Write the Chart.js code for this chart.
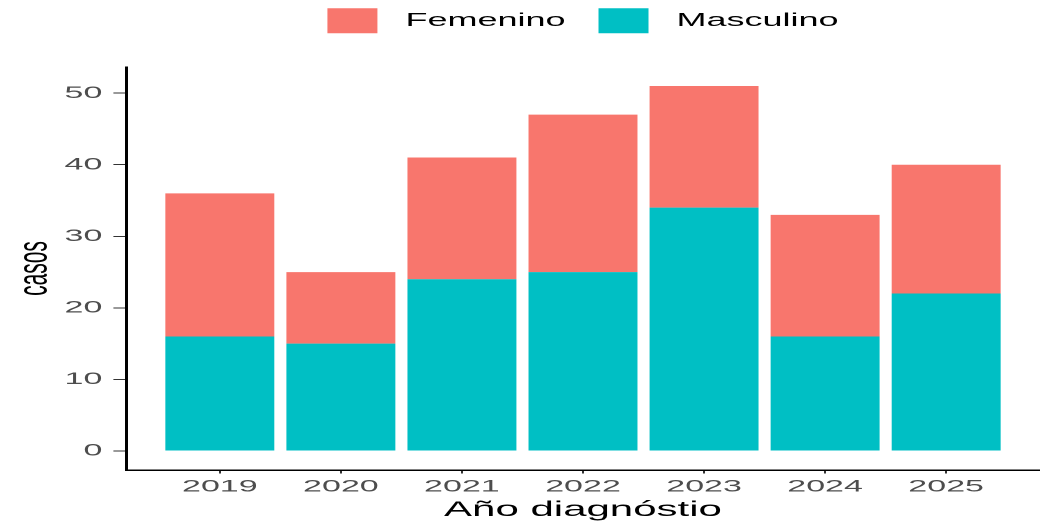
<!DOCTYPE html>
<html>
<head>
<meta charset="utf-8">
<script src="https://cdn.jsdelivr.net/npm/chart.js@4.4.1/dist/chart.umd.min.js"></script>
<style>
  html, body { margin: 0; padding: 0; background: #fff; overflow: hidden; }
  /* the reference is stretched sideways, so the chart is drawn at half width and scaled */
  #wrap { width: 520px; height: 526px; transform: scaleX(2); transform-origin: 0 0; }
</style>
</head>
<body>
<div id="wrap"><canvas id="myChart" width="520" height="526"></canvas></div>
<script>
const years = ['2019', '2020', '2021', '2022', '2023', '2024', '2025'];
const masculino = [16, 15, 24, 25, 34, 16, 22];
const femenino = [20, 10, 17, 22, 17, 17, 18];
const yTicks = [0, 10, 20, 30, 40, 50];

const fontFamily = "'Liberation Sans', Arial, sans-serif";

// empty box between legend and plot area
const gapBelowLegend = {
  id: 'gapBelowLegend',
  beforeInit(chart) {
    Chart.layouts.addBox(chart, {
      position: 'top',
      weight: 500,
      fullSize: false,
      options: {},
      isHorizontal() { return true; },
      update(maxWidth) { this.width = maxWidth; this.height = 23.7; },
      draw() {}
    });
  }
};

const ctx = document.getElementById('myChart').getContext('2d');
const barChart = new Chart(ctx, {
  type: 'bar',
  data: {
    datasets: [{
      label: 'Masculino',
      data: masculino.map((v, i) => ({ x: i, y: v })),
      backgroundColor: '#00BFC4',
      borderWidth: 0
    }, {
      label: 'Femenino',
      data: femenino.map((v, i) => ({ x: i, y: v })),
      backgroundColor: '#F8766D',
      borderWidth: 0
    }]
  },
  plugins: [gapBelowLegend],
  options: {
    responsive: false,
    animation: false,
    devicePixelRatio: 2,
    barPercentage: 0.9,
    categoryPercentage: 1,
    layout: { padding: { top: 1.8, left: 0, right: 0, bottom: 0 } },
    plugins: {
      tooltip: { enabled: false },
      legend: {
        position: 'top',
        fullSize: false,
        labels: {
          boxWidth: 25,
          boxHeight: 25,
          padding: 6.5,
          color: '#000',
          font: { family: fontFamily, size: 18 },
          generateLabels: function(chart) {
            const items = Chart.defaults.plugins.legend.labels.generateLabels(chart).reverse();
            items.forEach((item, i) => {
              item.text = ' ' + item.text + (i === 0 ? '  ' : '');
            });
            return items;
          }
        }
      }
    },
    scales: {
      x: {
        type: 'linear',
        stacked: true,
        offset: false,
        min: -0.775,
        max: 6.775,
        afterBuildTicks: s => { s.ticks = years.map((y, i) => ({ value: i })); },
        afterFit: s => { s.height = 56; },
        grid: { drawOnChartArea: false, offset: false, tickLength: 3.5, color: '#333', lineWidth: 1 },
        border: { color: '#000', width: 1.5 },
        ticks: {
          color: '#4D4D4D',
          font: { family: fontFamily, size: 17 },
          padding: 3,
          autoSkip: false,
          maxRotation: 0,
          callback: v => years[v]
        },
        title: {
          display: true,
          text: 'Año diagnóstio',
          color: '#000',
          font: { family: fontFamily, size: 21 },
          padding: { top: 0, bottom: 3 }
        }
      },
      y: {
        stacked: true,
        min: -2.65,
        max: 53.65,
        afterBuildTicks: s => { s.ticks = yTicks.map(v => ({ value: v })); },
        afterFit: s => { s.width = 63; },
        grid: { drawOnChartArea: false, tickLength: 6.3, color: '#333', lineWidth: 1 },
        border: { color: '#000', width: 1.5 },
        ticks: {
          color: '#4D4D4D',
          font: { family: fontFamily, size: 17 },
          padding: 5.5
        },
        title: {
          display: true,
          text: 'casos',
          color: '#000',
          font: { family: fontFamily, size: 21 },
          padding: { top: 5, bottom: 0 }
        }
      }
    }
  }
});
</script>
</body>
</html>
